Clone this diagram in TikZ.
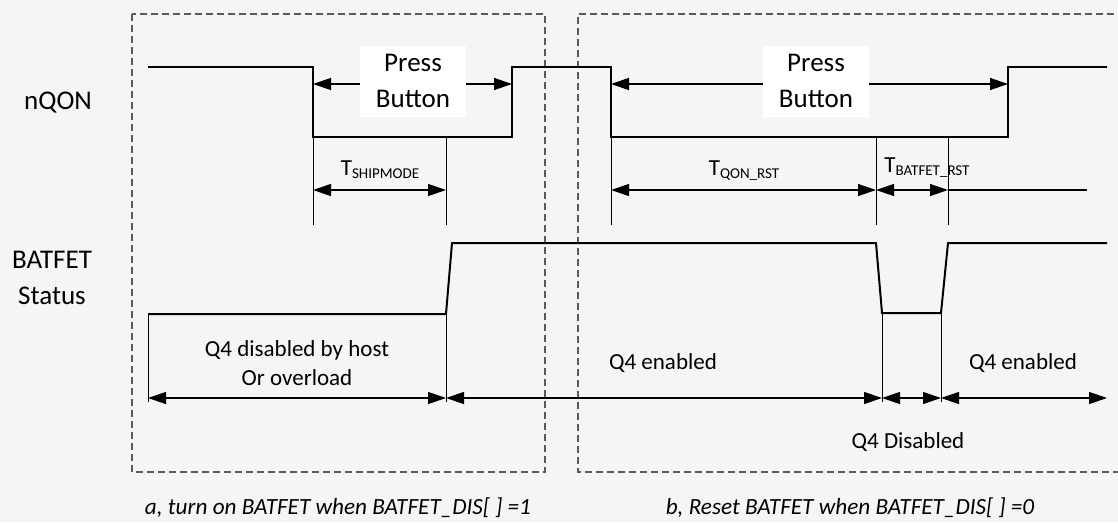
\documentclass[tikz,border=0pt]{standalone}
\usepackage{fontspec}
\setmainfont{Carlito}
\usetikzlibrary{arrows.meta}
\definecolor{bgc}{HTML}{F5F5F5}
\definecolor{dashc}{HTML}{5A5A5A}
\newcommand{\Tsub}[1]{T\raisebox{-3pt}{\fontsize{15}{15}\selectfont #1}}
\begin{document}
\begin{tikzpicture}[x=1pt,y=-1pt,
  sig/.style={line width=2pt,line join=miter},
  thinline/.style={line width=1pt},
  dimline/.style={line width=1.3pt,{Triangle[length=18pt,width=12pt]}-{Triangle[length=18pt,width=12pt]}},
  oneway/.style={line width=1.3pt,-{Triangle[length=18pt,width=12pt]}},
  plainline/.style={line width=1.3pt},
  framebox/.style={dashc,line width=1.3pt,dash pattern=on 7pt off 4pt},
  biglbl/.style={font=\fontsize{27}{36}\selectfont,align=center,inner sep=0pt},
  pbox/.style={biglbl,fill=white,minimum width=106pt,minimum height=71pt},
  txt/.style={font=\fontsize{23}{29}\selectfont,align=center,inner sep=0pt},
  tlbl/.style={font=\fontsize{23}{29}\selectfont,inner sep=0pt,anchor=base},
  captxt/.style={font=\fontsize{23.2}{28}\selectfont\itshape,inner sep=0pt}
]
\fill[bgc] (0,0) rectangle (1118,522);
\useasboundingbox (0,0) rectangle (1118,522);

% frames
\draw[framebox] (132,14) rectangle (545,472);
\draw[framebox] (1125,14) -- (578,14) -- (578,472) -- (1125,472);

% row labels
\node[biglbl] (nqon) at (58,103) {nQON};
\node[biglbl] (batfet) at (52,278) {BATFET\\Status};

% key coordinates
\coordinate (a1) at (313,137);
\coordinate (a2) at (446,137);
\coordinate (b1) at (611,137);
\coordinate (b2) at (876,137);
\coordinate (b3) at (948,137);
\coordinate (a1d) at (313,225);
\coordinate (a2d) at (446,225);
\coordinate (b1d) at (611,225);
\coordinate (b2d) at (876,225);
\coordinate (b3d) at (948,225);

% signals
\draw[sig] (148,67) -- (313,67) -- (a1) -- (512,137) -- (512,67) -- (611,67) -- (b1) -- (1008,137) -- (1008,67) -- (1107,67);
\draw[sig] (148,314) -- (446,314) -- (452,243) -- (876,243) -- (882,313) -- (941,313) -- (948,243) -- (1107,243);

% thin markers (nQON)
\draw[thinline] (a1) -- (a1d);
\draw[thinline] (a2) -- (a2d);
\draw[thinline] (b1) -- (b1d);
\draw[thinline] (b2) -- (b2d);
\draw[thinline] (b3) -- (b3d);

% thin markers (BATFET)
\coordinate (c1) at (148,314); \coordinate (c1d) at (148,402);
\coordinate (c2) at (446,314); \coordinate (c2d) at (446,402);
\coordinate (c3) at (882,313); \coordinate (c3d) at (882,402);
\coordinate (c4) at (941,313); \coordinate (c4d) at (941,402);
\draw[thinline] (c1) -- (c1d);
\draw[thinline] (c2) -- (c2d);
\draw[thinline] (c3) -- (c3d);
\draw[thinline] (c4) -- (c4d);

% press button labels
\node[pbox] (pb1) at (413,81) {Press\\Button};
\node[pbox] (pb2) at (816,81) {Press\\Button};
\coordinate (p1) at (313,84); \coordinate (p2) at (512,84);
\coordinate (p3) at (611,84); \coordinate (p4) at (1008,84);
\draw[oneway] (pb1.west |- p1) -- (p1);
\draw[oneway] (pb1.east |- p2) -- (p2);
\draw[oneway] (pb2.west |- p3) -- (p3);
\draw[oneway] (pb2.east |- p4) -- (p4);

% timing dimension arrows
\coordinate (t1) at (313,190); \coordinate (t2) at (446,190);
\coordinate (t3) at (611,190); \coordinate (t4) at (876,190);
\coordinate (t5) at (948,190); \coordinate (t6) at (1087,190);
\draw[dimline] (t1) -- (t2);
\draw[dimline] (t3) -- (t4);
\draw[dimline] (t4) -- (t5);
\draw[plainline] (t5) -- (t6);

\node[tlbl] (tship) at (380,175) {\Tsub{SHIPMODE}};
\node[tlbl] (tqon) at (744,175) {\Tsub{QON\_RST}};
\node[tlbl] (tbat) at (927,172) {\Tsub{BATFET\_RST}};

% BATFET dimension arrows
\coordinate (d1) at (148,398); \coordinate (d2) at (446,398);
\coordinate (d3) at (882,398); \coordinate (d4) at (941,398);
\coordinate (d5) at (1107,398);
\draw[dimline] (d1) -- (d2);
\draw[dimline] (d2) -- (d3);
\draw[dimline] (d3) -- (d4);
\draw[dimline] (d4) -- (d5);

\node[txt] (qdis) at (297,363) {Q4 disabled by host\\Or overload};
\node[txt] (qen1) at (663,363) {Q4 enabled};
\node[txt] (qen2) at (1023,363) {Q4 enabled};
\node[txt] (qdis2) at (908,442) {Q4 Disabled};

% captions
\node[captxt] (capa) at (338,508) {a, turn on BATFET when BATFET\_DIS[ ] =1};
\node[captxt] (capb) at (850,508) {b, Reset BATFET when BATFET\_DIS[ ] =0};
\end{tikzpicture}
\end{document}
